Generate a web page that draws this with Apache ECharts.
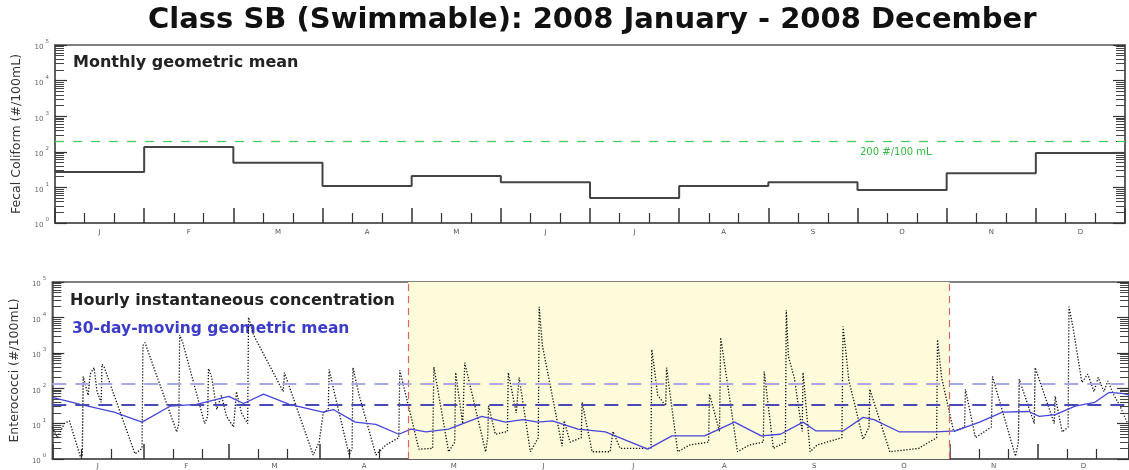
<!DOCTYPE html>
<html><head><meta charset="utf-8">
<script src="https://cdn.jsdelivr.net/npm/echarts@6/dist/echarts.min.js"></script>
<style>html,body{margin:0;padding:0;background:#fff}#c{width:1129px;height:470px}</style>
</head><body><div id="c"></div><script>
// ---------- data ----------
const monthLabels = ['J','F','M','A','M','J','J','A','S','O','N','D'];
const monthlyGeoMean = [27, 136, 49, 11, 21, 14, 5, 11, 14, 8.5, 25, 93];
const fecalStandard = 200;
const monthStartDays = [0,31,60,91,121,152,182,213,244,274,305,335,366];
const seasonStartDay = 121;
const seasonEndDay = 305;
const enteroStandards = [130, 35];
const decadeTicks = [1,10,100,1000,10000,100000];

const hourlyDay = [0,1.7,4.1,5.8,9.5,10.2,10.5,12.2,12.9,14.2,15.2,16.6,16.9,17.6,28.1,30.5,30.8,31.5,42.3,43.0,43.3,44.3,51.8,52.8,53.1,54.2,55.9,57.5,59.2,61.6,62.6,64.3,66.4,66.7,68.4,78.5,78.9,88.7,90.7,92.1,93.8,94.1,95.8,100.9,101.9,102.2,104.3,110,113.4,117.8,118.1,120.2,124.6,129.3,129.7,134.7,136.8,137.1,139.5,140.2,147.3,148,148.3,150.6,154.7,155,157.7,158.7,162.5,165.2,165.5,166.6,173.3,174,176,179.8,180.1,183.5,189.6,190.6,193,203.5,203.8,205.8,208.5,208.8,212.6,216.7,223.1,223.4,226.8,227.2,232.9,237,241.7,242,245.1,249.2,249.5,250.2,252.2,254.9,255.2,257.6,260,268.4,268.8,270.8,273.2,275.6,277.6,277.9,284.7,294.5,300.6,300.9,302.3,306.4,310.1,310.4,313.8,319.2,319.6,327.4,328.4,328.7,333.8,334.1,340.6,340.9,343.3,345.3,345.6,347,350,352,354.1,355.5,357.5,358.8,360.9,362.9,365.5];
const hourlyValue = [8,4,10,12,1.2,1.3,214,63,250,380,80,40,470,400,1.4,2,1600,1950,5.8,10,3200,2000,10,16,355,200,25,63,16,8,80,20,10,10000,3200,80,275,1.3,3,20,25,340,80,1.3,2,380,63,1.3,2.5,4,320,63,1.9,2,400,1.6,3,275,10,525,1.6,4,32,5,6,275,20,200,1.6,4,20000,1600,2.3,12,3,4,40,1.6,1.6,6,2,2,1230,63,32,380,1.6,2.5,3,68,6,2700,1.6,2.5,3,295,2,3,16000,800,200,6,275,1.6,2.5,4,5500,160,25,3.6,8,93,1.6,2,4,2350,200,6,8,93,4,8,214,1.2,3,178,10,380,10,59,5.8,8,20000,5000,145,250,80,200,80,160,63,32,10];

const meanDay = [0,9.5,21,30.5,40,49,60,65,71.8,80.6,92,95.5,103,110,117.8,121.9,127,134.7,146,154,160,165,170,178.7,188,202.4,210.6,221.7,231.9,241,247.5,255.2,259.6,268.8,275.6,279.3,288,300.3,307,315.2,323,332,335.5,341,347.7,354.4,359.2,363.6,366];
const meanValue = [55,35,21,11,31,35,59,37,68,35,21,25,11,9.5,5,7,5.8,7,16,11,13,11,12,7,5.8,1.9,4.5,4.5,11,4.5,5,11,6.2,6.2,15,13,5.8,5.8,6.2,11,21,22,16,18,31,40,76,71,65];

// ---------- helpers ----------
const FONT = 'DejaVu Sans';
const AX = '#555';
const minorLogTicks = decadeTicks.slice(0,5).flatMap(d => [2,3,4,5,6,7,8,9].map(k => k*d));
const monthCenters = monthStartDays.slice(0,12).map((s,i) => (s + monthStartDays[i+1]) / 2);
const dayMinorTicks = monthStartDays.slice(0,12).flatMap(s => [s+10, s+20]);
const monthIdx = monthLabels.map((m,i) => i).concat([12]);
const monthMidIdx = monthLabels.map((m,i) => i + 0.5);
const monthThirds = monthLabels.flatMap((m,i) => [i + 1/3, i + 2/3]);

function powLabel(v) {
  const e = Math.round(Math.log10(v));
  return '{b|10}{s|' + e + '}';
}
function logAxes(g, name, gap) {
  const base = {type:'log', logBase:10, min:1, max:100000, gridIndex:g, splitLine:{show:false}};
  return [
    Object.assign({}, base, {position:'left',
      axisLine:{show:true, lineStyle:{color:AX, width:1.5}},
      axisTick:{show:true, inside:true, length:12, customValues:decadeTicks, lineStyle:{color:'#333', width:1.2}},
      axisLabel:{show:true, margin:6, formatter:powLabel, customValues:decadeTicks,
        rich:{b:{fontSize:7, color:'#666', fontFamily:FONT, verticalAlign:'bottom', lineHeight:12},
              s:{fontSize:5.5, color:'#666', fontFamily:FONT, verticalAlign:'top', lineHeight:12, padding:[0,0,0,2]}}},
      name:name, nameLocation:'middle', nameGap:gap,
      nameTextStyle:{fontFamily:FONT, fontSize:12.5, color:'#333'}}),
    Object.assign({}, base, {position:'left', axisLine:{show:false}, axisLabel:{show:false},
      axisTick:{show:true, inside:true, length:9, customValues:minorLogTicks, lineStyle:{color:'#444', width:1}}}),
    Object.assign({}, base, {position:'right', axisLine:{show:true, lineStyle:{color:AX, width:1.5}}, axisLabel:{show:false},
      axisTick:{show:true, inside:true, length:12, customValues:decadeTicks, lineStyle:{color:'#333', width:1.2}}}),
    Object.assign({}, base, {position:'right', axisLine:{show:false}, axisLabel:{show:false},
      axisTick:{show:true, inside:true, length:9, customValues:minorLogTicks, lineStyle:{color:'#444', width:1}}})
  ];
}

const stepData = monthlyGeoMean.map((v,i) => [i, v]).concat([[12, monthlyGeoMean[11]]]);
const hourlyData = hourlyDay.map((d,i) => [d, hourlyValue[i]]);
const meanData = meanDay.map((d,i) => [d, meanValue[i]]);

const chart = echarts.init(document.getElementById('c'), null, {renderer:'canvas'});
chart.setOption({
  animation:false,
  backgroundColor:'#fff',
  title:{text:'Class SB (Swimmable): 2008 January - 2008 December', left:148, top:6, padding:0,
    textStyle:{fontFamily:FONT, fontWeight:'bold', fontSize:29, color:'#111'}},
  grid:[
    {left:55, top:45, width:1070, height:178, show:true, borderColor:AX, borderWidth:1.5},
    {left:50, top:282, width:1081, height:178, show:true, borderColor:AX, borderWidth:1.5}
  ],
  xAxis:[
    {type:'value', gridIndex:0, min:0, max:12, position:'bottom', splitLine:{show:false},
     axisLine:{show:true, lineStyle:{color:AX, width:1.5}},
     axisTick:{show:true, inside:true, length:15, customValues:monthIdx, lineStyle:{color:'#333', width:1.5}},
     axisLabel:{customValues:monthMidIdx, formatter:v => monthLabels[Math.floor(v)], fontSize:7, color:'#555', fontFamily:FONT, margin:6}},
    {type:'value', gridIndex:0, min:0, max:12, position:'bottom', splitLine:{show:false},
     axisLine:{show:false}, axisLabel:{show:false},
     axisTick:{show:true, inside:true, length:10, customValues:monthThirds, lineStyle:{color:'#333', width:1.2}}},
    {type:'value', gridIndex:1, min:0, max:366, position:'bottom', splitLine:{show:false},
     axisLine:{show:true, lineStyle:{color:AX, width:1.5}},
     axisTick:{show:true, inside:true, length:15, customValues:monthStartDays, lineStyle:{color:'#333', width:1.5}},
     axisLabel:{customValues:monthCenters, formatter:v => monthLabels[monthStartDays.findIndex((s,i) => v >= s && v < monthStartDays[i+1])], fontSize:7, color:'#555', fontFamily:FONT, margin:4}},
    {type:'value', gridIndex:1, min:0, max:366, position:'bottom', splitLine:{show:false},
     axisLine:{show:false}, axisLabel:{show:false},
     axisTick:{show:true, inside:true, length:10, customValues:dayMinorTicks, lineStyle:{color:'#333', width:1.2}}}
  ],
  yAxis: logAxes(0, 'Fecal Coliform (#/100mL)', 27).concat(logAxes(1, 'Enterococci (#/100mL)', 26)),
  series:[
    {type:'line', name:'Monthly geometric mean', xAxisIndex:0, yAxisIndex:0, data:stepData, step:'end',
     showSymbol:false, lineStyle:{color:'#444', width:2}, silent:true,
     markLine:{silent:true, symbol:'none', label:{show:false},
       lineStyle:{color:'#44cc66', type:[9,9], width:1.3}, data:[{yAxis:fecalStandard}]}},
    {type:'line', name:'Hourly instantaneous concentration', xAxisIndex:2, yAxisIndex:4, data:hourlyData,
     showSymbol:false, lineStyle:{color:'#111', width:1.3, type:[1.3,1.7]}, silent:true,
     markArea:{silent:true, itemStyle:{color:'#fdfbda'}, data:[[{xAxis:seasonStartDay},{xAxis:seasonEndDay}]]},
     markLine:{silent:true, symbol:'none', label:{show:false},
       lineStyle:{color:'#e06464', type:[7,5], width:1.2},
       data:[{xAxis:seasonStartDay},{xAxis:seasonEndDay}]}},
    {type:'line', name:'30-day-moving geometric mean', xAxisIndex:2, yAxisIndex:4, data:meanData,
     showSymbol:false, lineStyle:{color:'#4646d8', width:1.3}, silent:true, z:3,
     markLine:{silent:true, symbol:'none', label:{show:false},
       data:[{yAxis:enteroStandards[0], lineStyle:{color:'#a8a8e6', type:[14,9], width:2}},
             {yAxis:enteroStandards[1], lineStyle:{color:'#4a4ab6', type:[14,9], width:2}}]}}
  ],
  graphic:[
    {type:'text', left:73, top:55, style:{text:'Monthly geometric mean', font:'bold 16px "DejaVu Sans"', fill:'#222'}},
    {type:'text', left:70, top:293, style:{text:'Hourly instantaneous concentration', font:'bold 16px "DejaVu Sans"', fill:'#222'}},
    {type:'text', left:72, top:321, style:{text:'30-day-moving geometric mean', font:'bold 15.5px "DejaVu Sans"', fill:'#3c3cc8'}},
    {type:'text', left:560, top:293, style:{text:'Recreational Season', font:'bold 18px "DejaVu Sans"', fill:'#222'}},
    {type:'text', left:860, top:147, style:{text:'200 #/100 mL', font:'10px "DejaVu Sans"', fill:'#33bb44'}},
    {type:'text', left:864, top:374, style:{text:'130 #/100 mL', font:'10px "DejaVu Sans"', fill:'#4444cc'}},
    {type:'text', left:864, top:411, style:{text:'35 #/100 mL', font:'10px "DejaVu Sans"', fill:'#4444cc'}}
  ]
});
</script></body></html>
